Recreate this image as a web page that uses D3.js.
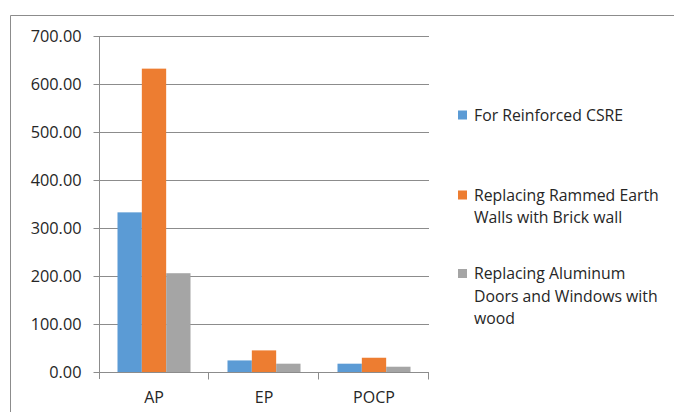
<!DOCTYPE html>
<html>
<head>
<meta charset="utf-8">
<script src="https://cdn.jsdelivr.net/npm/d3@7"></script>
<style>
  body { margin: 0; background: #fff; }
  svg { display: block; font-family: "Open Sans", sans-serif; }
</style>
</head>
<body>
<div id="chart"></div>
<script>
// chart data
var categories = ["AP", "EP", "POCP"];
var seriesNames = ["For Reinforced CSRE",
                   "Replacing Rammed Earth Walls with Brick wall",
                   "Replacing Aluminum Doors and Windows with wood"];
var reinforced = [332.6, 24.1, 17.3];
var brickWall = [632.0, 45.0, 29.7];
var woodDoors = [205.8, 17.3, 11.0];
var yTicks = [0, 100, 200, 300, 400, 500, 600, 700];

var legendLines = [["For Reinforced CSRE"],
                   ["Replacing Rammed Earth", "Walls with Brick wall"],
                   ["Replacing Aluminum", "Doors and Windows with", "wood"]];
var colors = ["#5b9bd5", "#ed7d31", "#a5a5a5"];

var W = 674, H = 412;
var margin = {top: 36, left: 99},
    width = 330,
    height = 336;

var svg = d3.select("#chart")
  .append("svg")
    .attr("width", W)
    .attr("height", H);

// outer chart frame
svg.append("path")
    .attr("d", "M10.5," + H + "V15.5H" + W)
    .attr("fill", "none")
    .attr("stroke", "#8c8c8c")
    .attr("stroke-width", 1);

var g = svg.append("g")
    .attr("transform", "translate(" + margin.left + "," + margin.top + ")");

var x = d3.scaleBand()
    .domain(categories)
    .range([0, width])
    .paddingInner(0)
    .paddingOuter(0);

var x1 = d3.scaleBand()
    .domain(d3.range(seriesNames.length))
    .range([0, x.bandwidth()])
    .paddingInner(0)
    .paddingOuter(0.76);

var y = d3.scaleLinear()
    .domain([0, 700])
    .range([height, 0]);

// gridlines
g.append("g")
  .selectAll("line")
  .data(yTicks.slice(1))
  .enter()
  .append("line")
    .attr("x1", 0)
    .attr("x2", width)
    .attr("y1", function(d) { return Math.round(y(d)) + 0.5; })
    .attr("y2", function(d) { return Math.round(y(d)) + 0.5; })
    .attr("stroke", "#8c8c8c");

// bars
var data = categories.map(function(c, i) {
  return {cat: c, vals: [reinforced[i], brickWall[i], woodDoors[i]]};
});

g.selectAll(".grp")
  .data(data)
  .enter()
  .append("g")
    .attr("transform", function(d) { return "translate(" + x(d.cat) + ",0)"; })
  .selectAll("rect")
  .data(function(d) { return d.vals; })
  .enter()
  .append("rect")
    .attr("x", function(d, i) { return x1(i); })
    .attr("y", function(d) { return y(d); })
    .attr("width", x1.bandwidth())
    .attr("height", function(d) { return height - y(d); })
    .attr("fill", function(d, i) { return colors[i]; });

// y axis
var yAxis = g.append("g")
    .attr("transform", "translate(0.5,0)")
    .call(d3.axisLeft(y)
      .tickValues(yTicks)
      .tickSize(6)
      .tickPadding(12)
      .tickFormat(d3.format(".2f")));
yAxis.select(".domain").remove();
yAxis.append("line")
    .attr("y1", 0).attr("y2", height + 7)
    .attr("stroke", "#8c8c8c");
yAxis.selectAll(".tick line").attr("stroke", "#8c8c8c");
yAxis.selectAll("text")
    .attr("fill", "#262626")
    .style("font-size", "16.3px");
yAxis.attr("font-family", null);

// x axis
var xAxis = g.append("g")
    .attr("transform", "translate(0," + (height + 0.5) + ")");
xAxis.append("line")
    .attr("x1", 0).attr("x2", width)
    .attr("stroke", "#8c8c8c");
xAxis.selectAll(".sep")
  .data(categories.slice(1).concat(["end"]))
  .enter()
  .append("line")
    .attr("x1", function(d, i) { return (i + 1) * x.bandwidth() - 0.5; })
    .attr("x2", function(d, i) { return (i + 1) * x.bandwidth() - 0.5; })
    .attr("y1", 0).attr("y2", 7)
    .attr("stroke", "#8c8c8c");
xAxis.selectAll(".lbl")
  .data(categories)
  .enter()
  .append("text")
    .attr("x", function(d) { return x(d) + x.bandwidth() / 2; })
    .attr("y", 30.5)
    .attr("text-anchor", "middle")
    .attr("fill", "#262626")
    .style("font-size", "16px")
    .text(function(d) { return d; });

// legend
var legendY = [115, 195, 273.5];
var legend = svg.selectAll(".legend")
  .data(legendLines)
  .enter()
  .append("g")
    .attr("transform", function(d, i) { return "translate(458," + legendY[i] + ")"; });

legend.append("rect")
    .attr("x", 0).attr("y", -4.5)
    .attr("width", 9).attr("height", 9)
    .attr("fill", function(d, i) { return colors[i]; });

legend.append("text")
    .attr("x", 16)
    .attr("fill", "#262626")
    .style("font-size", "15.8px")
  .selectAll("tspan")
  .data(function(d) { return d; })
  .enter()
  .append("tspan")
    .attr("x", 16)
    .attr("y", function(d, i) { return i * 22.5; })
    .attr("dy", "0.35em")
    .text(function(d) { return d; });
</script>
</body>
</html>
